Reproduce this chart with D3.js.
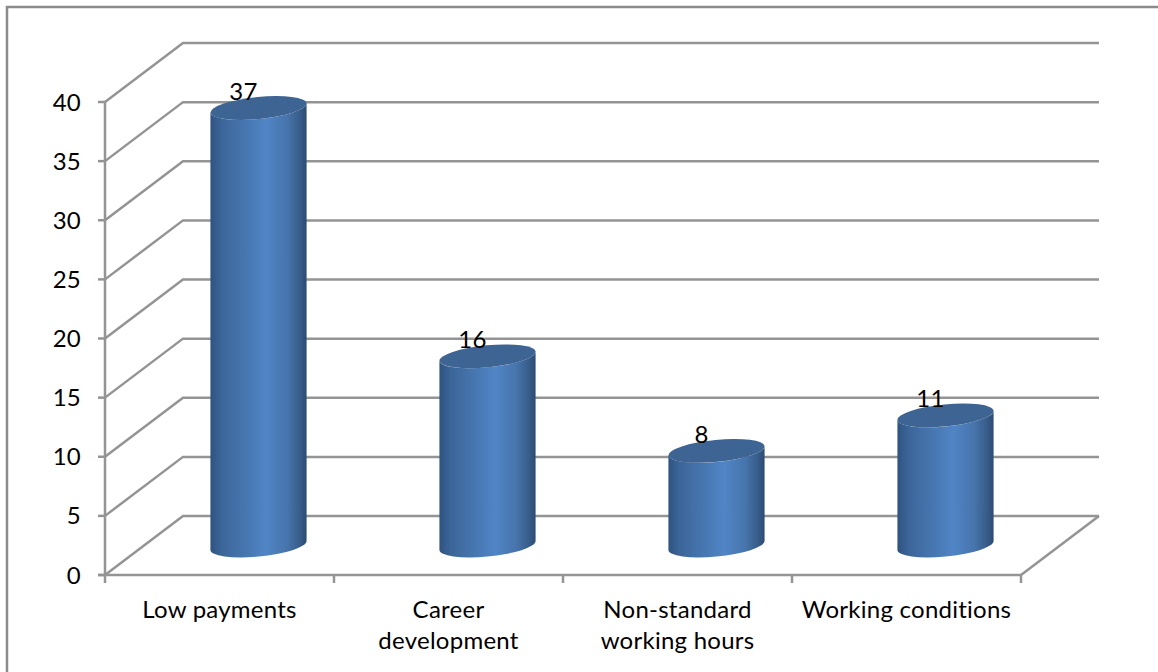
<!DOCTYPE html>
<html>
<head>
<meta charset="utf-8">
<script src="https://cdn.jsdelivr.net/npm/d3@7/dist/d3.min.js"></script>
<style>
html,body{margin:0;padding:0;background:#fff;}
svg{display:block;}
text{font-family:Lato,"Open Sans",sans-serif;fill:#000;letter-spacing:.25px;}
</style>
</head>
<body>
<svg id="chart" width="1158" height="672"></svg>
<script>
// Survey results: reasons given, shown as 3D-style cylinders.
const categories = ["Low payments", "Career development", "Non-standard working hours", "Working conditions"];
const categoryLines = [["Low payments"], ["Career", "development"], ["Non-standard", "working hours"], ["Working conditions"]];
const values = [37, 16, 8, 11];
const yTicks = [0, 5, 10, 15, 20, 25, 30, 35, 40];

const front = {left: 105, right: 1021, bottom: 575, top: 102};
const depth = {dx: 78, dy: -59};
const grid = "#949494";
const fontSize = 24;

const svg = d3.select("#chart");
const x = d3.scaleBand().domain(categories).range([front.left, front.right]);
const y = d3.scaleLinear().domain([0, 40]).range([front.bottom, front.top]);

// Chart area frame: left and top edges only
svg.append("path").attr("d", d3.line()([[7, 672], [7, 7], [1158, 7]]))
  .attr("fill", "none").attr("stroke", "#8c8c8c").attr("stroke-width", 2.5);

// Cylinder side shading
const defs = svg.append("defs");
const grad = defs.append("linearGradient").attr("id", "side")
  .attr("x1", 0).attr("x2", 1).attr("y1", 0).attr("y2", 0);
[[0, "#2f5380"], [0.12, "#3c669a"], [0.35, "#4675ae"], [0.58, "#5085c6"], [0.8, "#4774ab"], [0.93, "#375d8a"], [1, "#2d4b72"]]
  .forEach(([o, c]) => grad.append("stop").attr("offset", o).attr("stop-color", c));

// Back wall and floor gridlines
const wall = svg.append("g").attr("fill", "none").attr("stroke", grid).attr("stroke-width", 2.5);
yTicks.forEach(t => {
  const yy = y(t);
  wall.append("path").attr("d", d3.line()([
    [front.left, yy],
    [front.left + depth.dx, yy + depth.dy],
    [front.right + depth.dx, yy + depth.dy]
  ]));
});
// Floor right side
wall.append("path").attr("d", d3.line()([
  [front.right, front.bottom],
  [front.right + depth.dx, front.bottom + depth.dy]
]));

// Front axes
const axisLayer = svg.append("g").attr("fill", "none").attr("stroke", grid).attr("stroke-width", 2.5);
axisLayer.append("line").attr("x1", front.left).attr("x2", front.left)
  .attr("y1", front.top).attr("y2", front.bottom + 8);
axisLayer.append("line").attr("x1", front.left - 7).attr("x2", front.right)
  .attr("y1", front.bottom).attr("y2", front.bottom);
yTicks.forEach(t => {
  axisLayer.append("line").attr("x1", front.left - 7).attr("x2", front.left)
    .attr("y1", y(t)).attr("y2", y(t));
});
categories.forEach(c => {
  const xx = x(c) + x.bandwidth();
  axisLayer.append("line").attr("x1", xx).attr("x2", xx)
    .attr("y1", front.bottom).attr("y2", front.bottom + 8);
});

// Tilted ellipse geometry of a cylinder cap
const a = 48.3, b = 11, tilt = -5.6;
const th = tilt * Math.PI / 180;
const extentX = Math.sqrt(a * a * Math.cos(th) ** 2 + b * b * Math.sin(th) ** 2);
const extentDY = (a * a - b * b) * Math.sin(th) * Math.cos(th) / extentX;

const cx = c => x(c) + x.bandwidth() / 2 + depth.dx / 2;
const baseY = v => y(v) + depth.dy / 2;
const bars = svg.append("g");
categories.forEach((c, i) => {
  const v = values[i];
  const cxv = cx(c), top = baseY(v), bot = baseY(0);
  const body = `M${cxv - extentX},${top - extentDY}
    L${cxv - extentX},${bot - extentDY}
    A${a},${b} ${tilt} 0 0 ${cxv + extentX},${bot + extentDY}
    L${cxv + extentX},${top + extentDY}
    A${a},${b} ${tilt} 0 1 ${cxv - extentX},${top - extentDY}Z`;
  bars.append("path").attr("d", body).attr("fill", "url(#side)");
  bars.append("ellipse").attr("rx", a).attr("ry", b)
    .attr("transform", `translate(${cxv},${top}) rotate(${tilt})`)
    .attr("fill", "#3d6492");
  svg.append("text").attr("x", cxv - 15).attr("y", top - 8)
    .attr("text-anchor", "middle").attr("font-size", fontSize).text(v);
});

// Value axis labels
yTicks.forEach(t => {
  svg.append("text").attr("x", 81).attr("y", y(t) + 8.5)
    .attr("text-anchor", "end").attr("font-size", fontSize).text(t);
});

// Category labels, wrapped as in the axis
categories.forEach((c, i) => {
  const t = svg.append("text").attr("text-anchor", "middle").attr("font-size", fontSize);
  categoryLines[i].forEach((line, j) => {
    t.append("tspan").attr("x", x(c) + x.bandwidth() / 2).attr("y", 618 + j * 31).text(line);
  });
});
</script>
</body>
</html>
